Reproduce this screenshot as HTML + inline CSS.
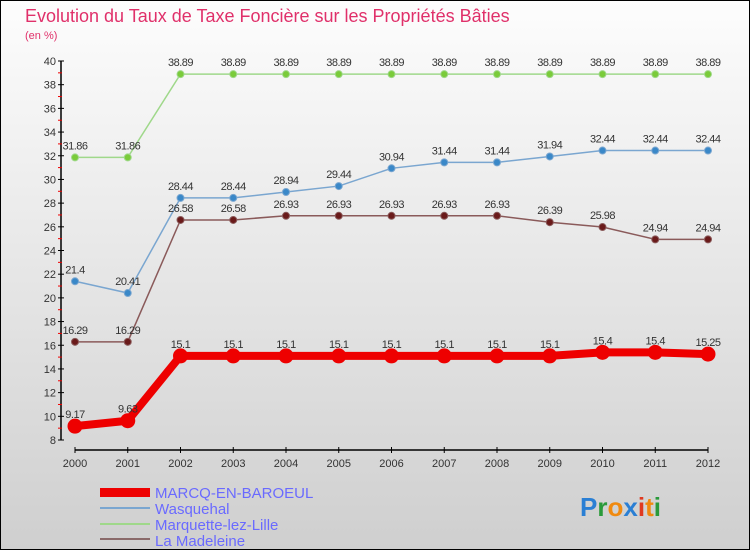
<!DOCTYPE html>
<html><head><meta charset="utf-8"><style>
body{margin:0;}
#c{width:750px;height:550px;position:relative;background:linear-gradient(#fdfdfd,#cfcfcf);font-family:"Liberation Sans",sans-serif;box-sizing:border-box;border:1px solid #000;overflow:hidden}
</style></head><body>
<div id="c">
<svg width="750" height="550" style="position:absolute;left:-1px;top:-1px" id="svg">
<text x="25" y="22" font-size="18" fill="#e0306a">Evolution du Taux de Taxe Foncière sur les Propriétés Bâties</text>
<text x="25" y="39" font-size="11" fill="#e0306a">(en %)</text>
<g id="axes"></g><g id="series"></g>
<g>
<rect x="100" y="488" width="50" height="9" fill="#e00"/>
<text x="155" y="498" font-size="15" fill="#6a6aff">MARCQ-EN-BAROEUL</text>
<rect x="100" y="507" width="50" height="2" fill="#7aa6d0"/>
<text x="155" y="514" font-size="15" fill="#6a6aff">Wasquehal</text>
<rect x="100" y="523" width="50" height="2" fill="#9fd88a"/>
<text x="155" y="530" font-size="15" fill="#6a6aff">Marquette-lez-Lille</text>
<rect x="100" y="538" width="50" height="2" fill="#8a6a6a"/>
<text x="155" y="546" font-size="15" fill="#6a6aff">La Madeleine</text>
</g>
<text x="580" y="516" font-size="26" font-weight="bold"><tspan fill="#2a7fd4">P</tspan><tspan fill="#2a9a3a">r</tspan><tspan fill="#f08a10">o</tspan><tspan fill="#2a7fd4">x</tspan><tspan fill="#e03a20">i</tspan><tspan fill="#f08a10">t</tspan><tspan fill="#2a9a3a">i</tspan></text>
</svg>
</div>
<script>
const years=[2000,2001,2002,2003,2004,2005,2006,2007,2008,2009,2010,2011,2012];
const yTicks=[8,10,12,14,16,18,20,22,24,26,28,30,32,34,36,38,40];
const marcq=[9.17,9.63,15.1,15.1,15.1,15.1,15.1,15.1,15.1,15.1,15.4,15.4,15.25];
const wasquehal=[21.4,20.41,28.44,28.44,28.94,29.44,30.94,31.44,31.44,31.94,32.44,32.44,32.44];
const marquette=[31.86,31.86,38.89,38.89,38.89,38.89,38.89,38.89,38.89,38.89,38.89,38.89,38.89];
const madeleine=[16.29,16.29,26.58,26.58,26.93,26.93,26.93,26.93,26.93,26.39,25.98,24.94,24.94];
const NS="http://www.w3.org/2000/svg";
const X=i=>75+i*(708-75)/(years.length-1);
const Y=v=>61+(40-v)*(440-61)/32;
function mk(t,a,p){const e=document.createElementNS(NS,t);for(const k in a)e.setAttribute(k,a[k]);p.appendChild(e);return e;}
const ax=document.getElementById('axes'),sr=document.getElementById('series');
let l=mk('line',{x1:61,y1:Y(40),x2:61,y2:Y(8),stroke:'#000','stroke-width':1.5},ax);


yTicks.forEach(v=>{
 mk('line',{x1:58,x2:64,y1:Y(v),y2:Y(v),stroke:'#000'},ax);
 if(v<40)mk('line',{x1:58,x2:62,y1:Y(v+1),y2:Y(v+1),stroke:'#e00'},ax);
 const t=mk('text',{x:56,y:Y(v)+4,'text-anchor':'end','font-size':11,fill:'#333'},ax);t.textContent=v;
 
 
});
l=mk('line',{x1:75,y1:450,x2:708,y2:450,stroke:'#000','stroke-width':1.5},ax);


years.forEach((y,i)=>{
 mk('line',{x1:X(i),x2:X(i),y1:447,y2:453,stroke:'#000'},ax);
 const t=mk('text',{x:X(i),y:467,'text-anchor':'middle','font-size':11,fill:'#333'},ax);t.textContent=y;
 
 
});
function draw(data,name,color,w,r,dot){
 const g=mk('g',{},sr);
 
 
 mk('polyline',{points:data.map((v,i)=>X(i)+','+Y(v)).join(' '),fill:'none',stroke:color,'stroke-width':w},g);
 data.forEach((v,i)=>{
  const c=mk('circle',{cx:X(i),cy:Y(v),r:r,fill:dot,stroke:color,'stroke-width':1},g);
  
  
  const t=mk('text',{x:X(i),y:Y(v)-8,'text-anchor':'middle','font-size':11,fill:'#333','letter-spacing':'-0.5'},g);t.textContent=v;
  
  
 });
}
draw(marquette,'marquette','#9fd88a',1.5,3.5,'#7acb3a');
draw(wasquehal,'wasquehal','#7aa6d0',1.5,3.5,'#3a88c8');
draw(madeleine,'madeleine','#8a5a5a',1.5,3.5,'#6a1a1a');
draw(marcq,'marcq','#e00',8,7,'#e00');
</script>
</body></html>
